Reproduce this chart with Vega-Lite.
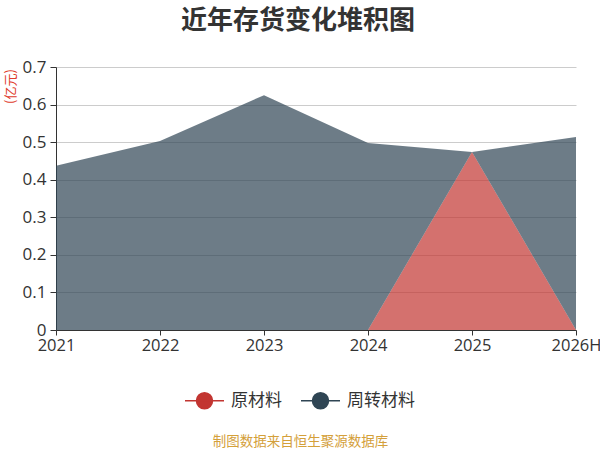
{
  "$schema": "https://vega.github.io/schema/vega-lite/v6.json",
  "autosize": "none",
  "width": 520,
  "height": 263,
  "padding": {"left": 56, "top": 67, "right": 24, "bottom": 120},
  "background": "white",
  "title": {
    "text": "近年存货变化堆积图",
    "anchor": "middle",
    "dx": -18,
    "offset": 24,
    "font": "Noto Sans CJK SC",
    "fontSize": 26,
    "fontWeight": "bold",
    "color": "#333333"
  },
  "data": {
    "values": [
      {"year": "2021", "series": "原材料", "value": 0},
      {"year": "2022", "series": "原材料", "value": 0},
      {"year": "2023", "series": "原材料", "value": 0},
      {"year": "2024", "series": "原材料", "value": 0},
      {"year": "2025", "series": "原材料", "value": 0.474},
      {"year": "2026H", "series": "原材料", "value": 0},
      {"year": "2021", "series": "周转材料", "value": 0.437},
      {"year": "2022", "series": "周转材料", "value": 0.503},
      {"year": "2023", "series": "周转材料", "value": 0.625},
      {"year": "2024", "series": "周转材料", "value": 0.498},
      {"year": "2025", "series": "周转材料", "value": 0},
      {"year": "2026H", "series": "周转材料", "value": 0.514}
    ]
  },
  "mark": {"type": "area", "opacity": 0.7, "interpolate": "linear"},
  "encoding": {
    "x": {
      "field": "year",
      "type": "ordinal",
      "sort": null,
      "scale": {"type": "point", "padding": 0},
      "axis": {
        "labelAngle": 0,
        "labelFont": "Open Sans",
        "labelFontSize": 16.5,
        "labelColor": "#333333",
        "labelPadding": 2,
        "domainColor": "#333333",
        "tickColor": "#333333",
        "tickSize": 5,
        "grid": false,
        "title": "制图数据来自恒生聚源数据库",
        "titleFont": "Noto Sans CJK SC",
        "titleFontSize": 13.5,
        "titleFontWeight": "normal",
        "titleColor": "#d4a03a",
        "titleX": 244,
        "titleY": 111,
        "titleBaseline": "middle",
        "titleAlign": "center"
      }
    },
    "y": {
      "field": "value",
      "type": "quantitative",
      "stack": "zero",
      "scale": {"domain": [0, 0.7], "nice": false},
      "axis": {
        "values": [0, 0.1, 0.2, 0.3, 0.4, 0.5, 0.6, 0.7],
        "format": "~g",
        "labelFont": "Open Sans",
        "labelFontSize": 17,
        "labelColor": "#333333",
        "labelPadding": 4,
        "domainColor": "#333333",
        "tickColor": "#333333",
        "tickSize": 6,
        "gridColor": "#cccccc",
        "title": "(亿元)",
        "titleFont": "Noto Sans CJK SC",
        "titleFontSize": 13,
        "titleFontWeight": "normal",
        "titleColor": "#e03c2d",
        "titleAngle": -90,
        "titleX": -46,
        "titleY": 19,
        "titleAlign": "center",
        "titleBaseline": "middle"
      }
    },
    "order": {"field": "series", "sort": "ascending"},
    "color": {
      "field": "series",
      "type": "nominal",
      "scale": {"domain": ["原材料", "周转材料"], "range": ["#c23531", "#2f4554"]},
      "legend": {
        "title": null,
        "orient": "none",
        "direction": "horizontal",
        "legendX": 128,
        "legendY": 313,
        "padding": 0,
        "symbolType": "M-1,0L1,0M-0.41,0A0.41,0.41,0,1,1,0.41,0A0.41,0.41,0,1,1,-0.41,0Z",
        "symbolSize": 1521,
        "symbolOpacity": 1,
        "symbolStrokeWidth": 1.5,
        "labelFont": "Noto Sans CJK SC",
        "labelFontSize": 17,
        "labelColor": "#333333",
        "labelOffset": 6,
        "columnPadding": 16,
        "encode": {
          "symbols": {
            "update": {
              "stroke": {"scale": "color", "field": "value"},
              "fill": {"scale": "color", "field": "value"}
            }
          }
        }
      }
    }
  },
  "config": {
    "view": {"stroke": null}
  }
}
